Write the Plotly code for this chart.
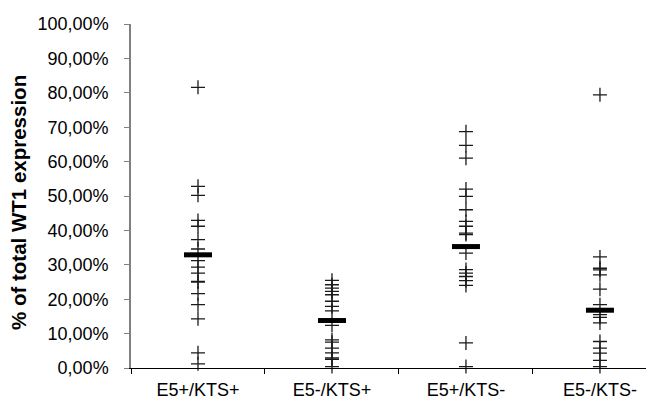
import plotly.graph_objects as go

categories = ["E5+/KTS+", "E5-/KTS+", "E5+/KTS-", "E5-/KTS-"]

# individual values (% of total WT1 expression)
e5p_ktsp = [81.6, 52.8, 50.2, 42.9, 41.2, 37.3, 34.6, 31.2, 29.3, 27.6, 25.2, 25.0,
            21.6, 18.4, 14.3, 4.4, 1.2]
e5m_ktsp = [25.5, 24.2, 23.2, 22.3, 21.3, 19.4, 17.9, 16.6, 12.4, 8.2, 7.5, 5.8,
            4.4, 2.9, 2.5, 0.4]
e5p_ktsm = [68.7, 64.7, 61.0, 52.0, 49.9, 46.0, 42.6, 41.2, 39.2, 38.8, 33.4, 28.6,
            27.6, 26.6, 25.4, 24.0, 7.3, 0.4]
e5m_ktsm = [79.4, 32.3, 29.0, 28.5, 27.1, 22.9, 18.4, 15.5, 14.7, 13.1, 7.7, 5.8,
            4.3, 2.2, 0.4]
means = [32.9, 13.8, 35.3, 16.8]

y_ticks = [0, 10, 20, 30, 40, 50, 60, 70, 80, 90, 100]

groups = [e5p_ktsp, e5m_ktsp, e5p_ktsm, e5m_ktsm]

fig = go.Figure()
for cat, vals in zip(categories, groups):
    fig.add_trace(go.Scatter(
        x=[cat] * len(vals),
        y=[v / 100 for v in vals],
        mode="markers",
        marker=dict(symbol="cross-thin", size=10,
                    line=dict(width=1.3, color="#1a1a1a")),
        cliponaxis=False,
        showlegend=False,
    ))

fig.add_trace(go.Scatter(
    x=categories,
    y=[m / 100 for m in means],
    mode="markers",
    marker=dict(symbol="line-ew", size=20,
                line=dict(width=5, color="black")),
    cliponaxis=False,
    showlegend=False,
))

font_family = "Liberation Sans, Arial, sans-serif"

fig.update_layout(
    width=654, height=399,
    margin=dict(l=123, r=0, t=16, b=39),
    plot_bgcolor="white", paper_bgcolor="white",
    separators=",.",
    font=dict(family=font_family, size=18, color="black"),
    xaxis=dict(
        type="category",
        categoryorder="array", categoryarray=categories,
        range=[-0.5, 3.463],
        showgrid=False, zeroline=False,
        showline=True, linecolor="black", linewidth=1.3,
        ticks="outside", tickson="boundaries", ticklen=5,
        tickcolor="black", tickwidth=1,
        tickfont=dict(family=font_family, size=18, color="black"),
        ticklabelstandoff=5,
    ),
    yaxis=dict(
        range=[0, 1],
        tickvals=[t / 100 for t in y_ticks],
        tickformat=".2%",
        showgrid=False, zeroline=False,
        showline=True, linecolor="#808080", linewidth=1.5,
        ticks="outside", ticklen=5, tickcolor="#808080", tickwidth=1,
        tickfont=dict(family=font_family, size=18, color="black"),
        ticklabelstandoff=12,
    ),
    annotations=[dict(
        text="<b>% of total WT1 expression</b>",
        xref="paper", yref="paper",
        x=(10 - 123) / 531, y=(360 - 195) / 344,
        xanchor="center", yanchor="middle",
        textangle=-90, showarrow=False,
        font=dict(family=font_family, size=20.5, color="black"),
    )],
)

fig.write_html("out.html")
